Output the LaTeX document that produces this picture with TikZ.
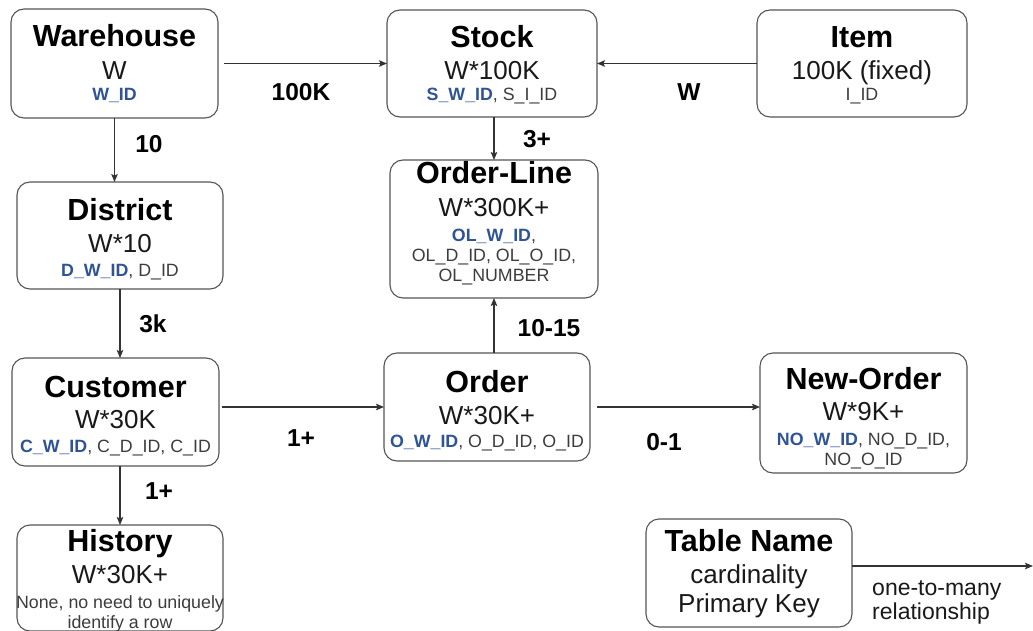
\documentclass[tikz,border=0pt]{standalone}
\usepackage{fontspec}
\setmainfont{Liberation Sans}
\usetikzlibrary{arrows.meta,calc}
\definecolor{keyblue}{HTML}{2F5496}
\definecolor{keygray}{HTML}{3C3C3C}
\definecolor{boxgray}{HTML}{555555}
\definecolor{linegray}{HTML}{333333}
\newcommand\ttlfont{\fontsize{30.5}{33}\selectfont\bfseries}
\newcommand\cardfont{\fontsize{26}{30}\selectfont}
\newcommand\keyfont{\fontsize{17.8}{21}\selectfont}
\newcommand\lblfont{\fontsize{24.5}{28}\selectfont\bfseries}
\newcommand\legfont{\fontsize{23}{27}\selectfont}
\newcommand\bk[1]{\textcolor{keyblue}{\bfseries #1}}
\tikzset{
  tbl/.style={draw=boxgray, line width=1.1pt, rounded corners=13pt, inner sep=0pt, outer sep=0pt},
  ttl/.style={anchor=base, font=\ttlfont, inner sep=0pt},
  card/.style={anchor=base, font=\cardfont, text=black!90, inner sep=0pt},
  keyt/.style={anchor=base, font=\keyfont, text=keygray, inner sep=0pt},
  lbl/.style={anchor=base, font=\lblfont, inner sep=0pt},
  legt/.style={anchor=base, font=\legfont, text=black!90, inner sep=0pt},
  conn/.style={draw=linegray, line width=1.1pt, -{Stealth[length=8pt,width=6.5pt,inset=1.5pt]}}
}
\begin{document}
\begin{tikzpicture}[x=1pt,y=-1pt]
\useasboundingbox (0,0) rectangle (1033,631);
% boxes
\node[tbl, minimum width=207pt, minimum height=109pt] (wh) at (114.5,63.5) {};
\node[tbl, minimum width=210pt, minimum height=107pt] (st) at (492,63.5) {};
\node[tbl, minimum width=210pt, minimum height=107pt] (it) at (862,63.5) {};
\node[tbl, minimum width=206pt, minimum height=107pt] (dist) at (120,235.5) {};
\node[tbl, minimum width=208pt, minimum height=138pt] (ol) at (494,229) {};
\node[tbl, minimum width=207pt, minimum height=108pt] (cust) at (115.5,412) {};
\node[tbl, minimum width=206pt, minimum height=108pt] (ord) at (487,407) {};
\node[tbl, minimum width=207pt, minimum height=120pt] (no) at (863.5,413) {};
\node[tbl, minimum width=206pt, minimum height=106pt] (hist) at (120,578) {};
\node[tbl, minimum width=206pt, minimum height=108pt] (leg) at (749,573) {};
% texts
\node[ttl] (wh-t) at (114.5,47) {Warehouse};
\node[card] (wh-c) at (114.5,80) {W};
\node[keyt] (wh-k) at (114.5,101) {\bk{W\_ID}};
\node[ttl] (st-t) at (492,48) {Stock};
\node[card] (st-c) at (492,80) {W*100K};
\node[keyt] (st-k) at (492,101) {\bk{S\_W\_ID}, S\_I\_ID};
\node[ttl] (it-t) at (862,48) {Item};
\node[card] (it-c) at (862,80) {100K (fixed)};
\node[keyt] (it-k) at (862,101) {I\_ID};
\node[ttl] (dist-t) at (120,220) {District};
\node[card] (dist-c) at (120,252) {W*10};
\node[keyt] (dist-k) at (120,276) {\bk{D\_W\_ID}, D\_ID};
\node[ttl] (ol-t) at (494,184) {Order-Line};
\node[card] (ol-c) at (494,217) {W*300K+};
\node[keyt] (ol-k1) at (494,241) {\bk{OL\_W\_ID},};
\node[keyt] (ol-k2) at (494,261) {OL\_D\_ID, OL\_O\_ID,};
\node[keyt] (ol-k3) at (494,281) {OL\_NUMBER};
\node[ttl] (cust-t) at (115.5,397) {Customer};
\node[card] (cust-c) at (115.5,428) {W*30K};
\node[keyt] (cust-k) at (115.5,452) {\bk{C\_W\_ID}, C\_D\_ID, C\_ID};
\node[ttl] (ord-t) at (487,392) {Order};
\node[card] (ord-c) at (487,424) {W*30K+};
\node[keyt] (ord-k) at (487,447) {\bk{O\_W\_ID}, O\_D\_ID, O\_ID};
\node[ttl] (no-t) at (863.5,389) {New-Order};
\node[card] (no-c) at (863.5,420) {W*9K+};
\node[keyt] (no-k1) at (863.5,445) {\bk{NO\_W\_ID}, NO\_D\_ID,};
\node[keyt] (no-k2) at (863.5,465) {NO\_O\_ID};
\node[ttl] (hist-t) at (120,551) {History};
\node[card] (hist-c) at (120,583) {W*30K+};
\node[keyt] (hist-k1) at (120,608) {None, no need to uniquely};
\node[keyt] (hist-k2) at (120,628) {identify a row};
\node[ttl] (leg-t) at (749,551) {Table Name};
\node[card] (leg-c) at (749,583) {cardinality};
\node[card] (leg-k) at (749,612) {Primary Key};
% connectors
\draw[conn, shorten <=6pt] (wh.east) -- (st.west);
\draw[conn] (it.west) -- (st.east);
\draw[conn] (wh.south) -- (wh.south |- dist.north);
\draw[conn] (ol.north |- st.south) -- (ol.north);
\draw[conn] (dist.south) -- (dist.south |- cust.north);
\draw[conn] (ol.south |- ord.north) -- (ol.south);
\draw[conn, shorten <=3pt] (cust.east |- ord.west) -- (ord.west);
\draw[conn, shorten <=7pt] (ord.east) -- (ord.east -| no.west);
\draw[conn] (hist.north |- cust.south) -- (hist.north);
\coordinate (leg-end) at (1033,566);
\draw[conn] (leg.east |- leg-end) -- (leg-end);
% edge labels
\node[lbl] (l-100k) at (301,101) {100K};
\node[lbl] (l-w) at (689,101) {W};
\node[lbl] (l-10) at (149,153) {10};
\node[lbl] (l-3p) at (537,148) {3+};
\node[lbl] (l-3k) at (153,332) {3k};
\node[lbl] (l-1015) at (549,336) {10-15};
\node[lbl] (l-1p) at (301,446) {1+};
\node[lbl] (l-01) at (664,450) {0-1};
\node[lbl] (l-1ph) at (159,499) {1+};
\node[legt, anchor=base west] (l-leg1) at (872,595) {one-to-many};
\node[legt, anchor=base west] (l-leg2) at (872,619) {relationship};
\end{tikzpicture}
\end{document}
